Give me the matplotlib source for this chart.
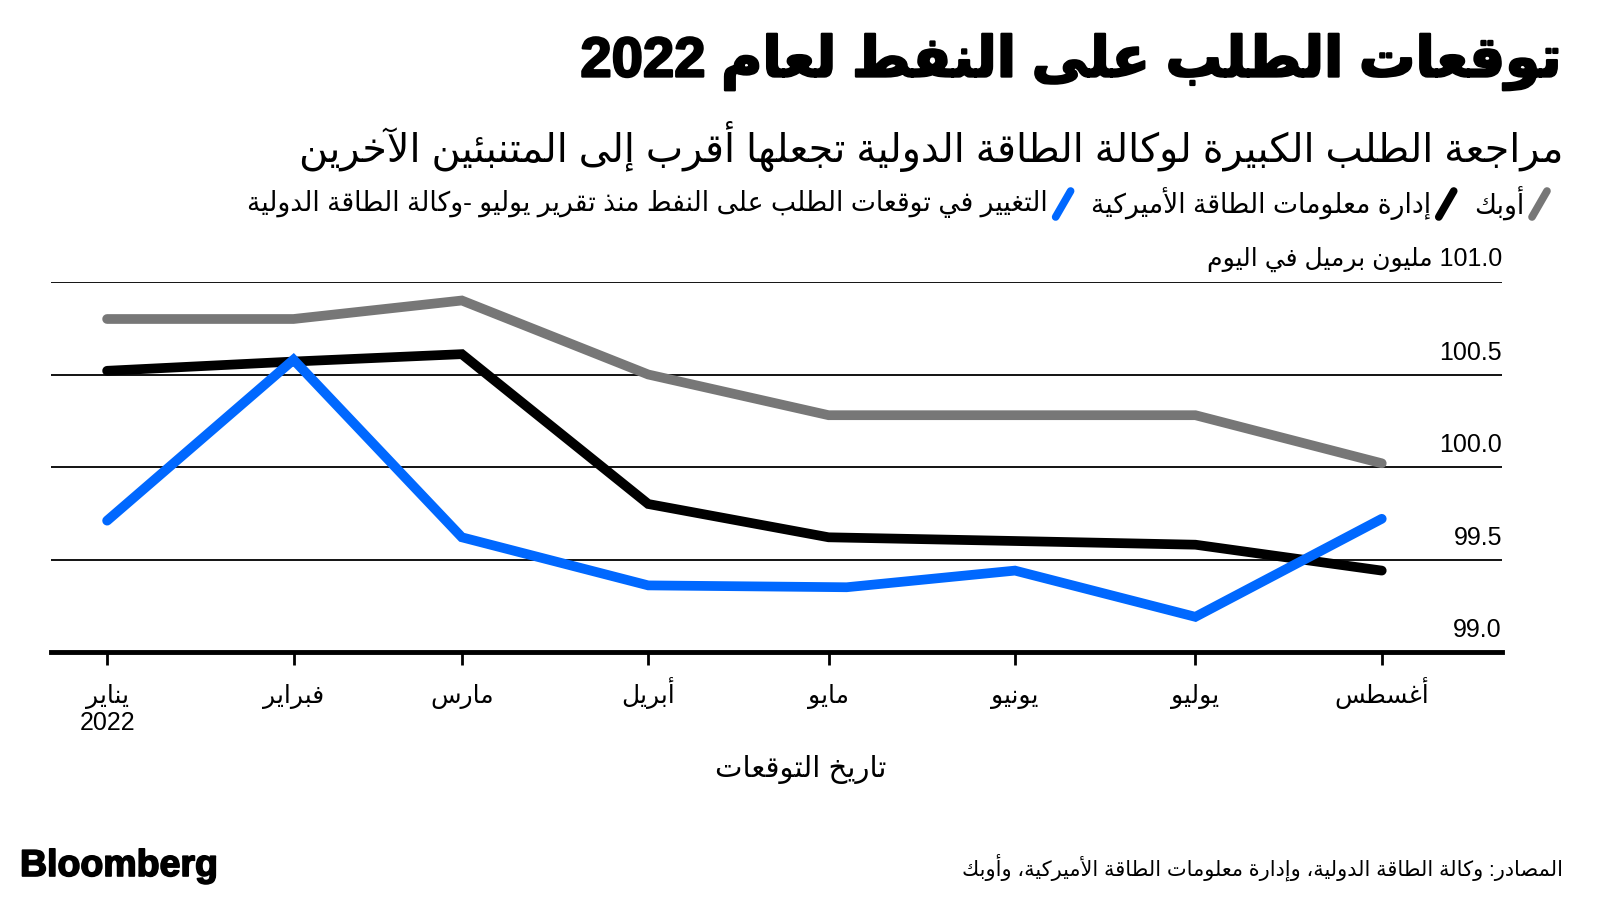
import re
import unicodedata

import pandas as pd
import matplotlib

matplotlib.use("Agg")
import matplotlib.pyplot as plt
from matplotlib.lines import Line2D
import matplotlib.patheffects as pe

# ---- data ----
month_labels = ["يناير\n2022", "فبراير", "مارس", "أبريل", "مايو", "يونيو", "يوليو", "أغسطس"]
month_starts = pd.to_datetime(
    ["2022-01-01", "2022-02-01", "2022-03-01", "2022-04-01",
     "2022-05-01", "2022-06-01", "2022-07-01", "2022-08-01"]
)
iea_dates = pd.to_datetime(
    ["2022-01-01", "2022-02-01", "2022-03-01", "2022-04-01",
     "2022-05-04", "2022-06-01", "2022-07-01", "2022-08-01"]
)
opec = [100.80, 100.80, 100.90, 100.50, 100.28, 100.28, 100.28, 100.02]
eia = [100.52, 100.57, 100.61, 99.80, 99.62, 99.60, 99.58, 99.44]
iea = [99.71, 100.58, 99.62, 99.36, 99.35, 99.44, 99.19, 99.72]
y_ticks = [99.0, 99.5, 100.0, 100.5, 101.0]
y_tick_labels = ["99.0", "99.5", "100.0", "100.5", "101.0 مليون برميل في اليوم"]

title = "توقعات الطلب على النفط لعام 2022"
subtitle = "مراجعة الطلب الكبيرة لوكالة الطاقة الدولية تجعلها أقرب إلى المتنبئين الآخرين"
legend_items = [
    ("أوبك", "#777777"),
    ("إدارة معلومات الطاقة الأميركية", "#000000"),
    ("التغيير في توقعات الطلب على النفط منذ تقرير يوليو -وكالة الطاقة الدولية", "#0068ff"),
]
x_title = "تاريخ التوقعات"
source = "المصادر: وكالة الطاقة الدولية، وإدارة معلومات الطاقة الأميركية، وأوبك"

FAMILY = ["Liberation Sans", "DejaVu Sans"]


# ---- minimal Arabic shaping + right-to-left ordering ----
_forms_cache = {}
LAM = "\u0644"
LAM_ALEF = {
    "\u0627": "ARABIC LIGATURE LAM WITH ALEF",
    "\u0623": "ARABIC LIGATURE LAM WITH ALEF WITH HAMZA ABOVE",
    "\u0625": "ARABIC LIGATURE LAM WITH ALEF WITH HAMZA BELOW",
    "\u0622": "ARABIC LIGATURE LAM WITH ALEF WITH MADDA ABOVE",
}


def letter_forms(ch):
    if ch not in _forms_cache:
        d = {}
        name = unicodedata.name(ch, "")
        if name.startswith("ARABIC LETTER"):
            for f in ("ISOLATED", "FINAL", "INITIAL", "MEDIAL"):
                try:
                    d[f] = unicodedata.lookup(f"{name} {f} FORM")
                except KeyError:
                    pass
        _forms_cache[ch] = d
    return _forms_cache[ch]


def shape_line(text):
    units = []
    i = 0
    while i < len(text):
        ch = text[i]
        if ch == LAM and i + 1 < len(text) and text[i + 1] in LAM_ALEF:
            base = LAM_ALEF[text[i + 1]]
            units.append((ch, {"ISOLATED": unicodedata.lookup(base + " ISOLATED FORM"),
                               "FINAL": unicodedata.lookup(base + " FINAL FORM")}))
            i += 2
            continue
        units.append((ch, letter_forms(ch)))
        i += 1

    out = []
    for k, (ch, f) in enumerate(units):
        if not f:
            out.append(ch)
            continue
        prev_f = units[k - 1][1] if k > 0 else {}
        next_f = units[k + 1][1] if k + 1 < len(units) else {}
        join_prev = "INITIAL" in prev_f and "FINAL" in f
        join_next = "INITIAL" in f and "FINAL" in next_f
        if join_prev and join_next:
            out.append(f["MEDIAL"])
        elif join_prev:
            out.append(f["FINAL"])
        elif join_next:
            out.append(f["INITIAL"])
        else:
            out.append(f.get("ISOLATED", ch))
    shaped = "".join(out)

    runs = re.split(r"([0-9A-Za-z]+(?:[.,][0-9]+)*)", shaped)
    visual = []
    for j, run in enumerate(runs):
        visual.append(run if j % 2 == 1 else run[::-1])
    return "".join(visual[::-1])


def ar(text):
    return "\n".join(shape_line(line) for line in text.split("\n"))


# ---- figure ----
W, H = 1600, 900
fig = plt.figure(figsize=(16, 9), dpi=100)
fig.patch.set_facecolor("white")


def fx(px):
    return px / W


def fy(py):
    return 1 - py / H


ax = fig.add_axes([fx(51), fy(652), fx(1502) - fx(51), fy(282) - fy(652)])
ax.set_facecolor("white")

for v in y_ticks[1:]:
    ax.axhline(v, color="black", lw=1.3, zorder=1)

ax.plot(month_starts, opec, color="#777777", lw=7, solid_capstyle="round",
        solid_joinstyle="miter", zorder=3)
ax.plot(month_starts, eia, color="#000000", lw=7, solid_capstyle="round",
        solid_joinstyle="miter", zorder=4)
ax.plot(iea_dates, iea, color="#0068ff", lw=7, solid_capstyle="round",
        solid_joinstyle="miter", zorder=5)

ax.set_xlim(pd.Timestamp("2021-12-22 16:00"), pd.Timestamp("2022-08-21"))
ax.set_ylim(99.0, 101.0)

for s in ["top", "left", "right"]:
    ax.spines[s].set_visible(False)
ax.spines["bottom"].set_linewidth(3.5)
ax.spines["bottom"].set_zorder(6)

# month name on the tick label, any extra line (the year) added underneath
first_lines = [m.split("\n")[0] for m in month_labels]
ax.set_yticks([])
ax.set_xticks(month_starts)
ax.set_xticklabels([ar(m) for m in first_lines], fontsize=18, family=FAMILY)
ax.tick_params(axis="x", direction="out", length=9.5, width=2, pad=27, colors="black")
for lab in ax.get_xticklabels():
    lab.set_verticalalignment("baseline")
for d, m in zip(month_starts, month_labels):
    extra = m.split("\n")[1:]
    if extra:
        ax.annotate(ar("\n".join(extra)), xy=(d, 0), xycoords=("data", "axes fraction"),
                    xytext=(0, -56), textcoords="offset points", ha="center",
                    va="baseline", fontsize=18, family=FAMILY)

for v, lab in zip(y_ticks, y_tick_labels):
    ax.annotate(ar(lab), xy=(1.0, v), xycoords=("axes fraction", "data"),
                xytext=(0, 7), textcoords="offset points", ha="right", va="bottom",
                fontsize=18, family=FAMILY)

# ---- texts ----
fig.text(fx(1563), fy(62), ar(title), ha="right", va="center", fontsize=40.5,
         fontweight="bold", family=FAMILY,
         path_effects=[pe.withStroke(linewidth=1.6, foreground="black")])
fig.text(fx(1563), fy(146), ar(subtitle), ha="right", va="center", fontsize=28.5,
         family=FAMILY)
fig.text(fx(801), fy(770), ar(x_title), ha="center", va="center", fontsize=21,
         family=FAMILY)
fig.text(fx(1563), fy(867), ar(source), ha="right", va="center", fontsize=15,
         family=FAMILY)
fig.text(fx(20), fy(866), "Bloomberg", ha="left", va="center", fontsize=27,
         fontweight="bold", family="Liberation Sans",
         path_effects=[pe.withStroke(linewidth=1.2, foreground="black")])

# legend, laid out right to left
renderer = fig.canvas.get_renderer()
cur = 1547
ly = 204
for label, color in legend_items:
    fig.add_artist(Line2D([fx(cur - 15), fx(cur)], [fy(ly + 13), fy(ly - 13)],
                          transform=fig.transFigure, color=color, lw=5.5,
                          solid_capstyle="round"))
    t = fig.text(fx(cur - 23), fy(ly), ar(label), ha="right", va="center",
                 fontsize=19.2, family=FAMILY)
    w = t.get_window_extent(renderer).width
    cur = cur - 23 - w - 20

fig.savefig("out.png", dpi=100, facecolor="white")
